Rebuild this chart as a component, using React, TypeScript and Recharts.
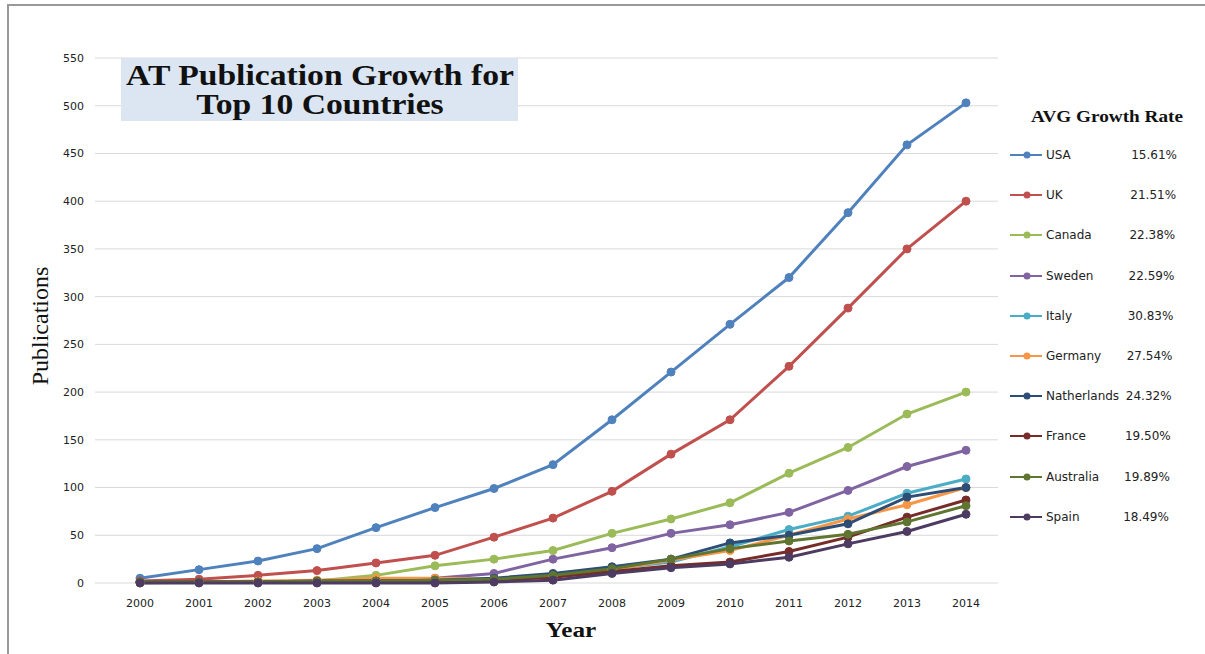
import { CartesianGrid, Line, LineChart, XAxis, YAxis } from "recharts";

const years = ["2000", "2001", "2002", "2003", "2004", "2005", "2006", "2007", "2008", "2009", "2010", "2011", "2012", "2013", "2014"];

const usa = [5, 14, 23, 36, 58, 79, 99, 124, 171, 221, 271, 320, 388, 459, 503];
const uk = [2, 4, 8, 13, 21, 29, 48, 68, 96, 135, 171, 227, 288, 350, 400];
const canada = [0, 1, 1, 2, 8, 18, 25, 34, 52, 67, 84, 115, 142, 177, 200];
const sweden = [1, 1, 1, 2, 3, 5, 10, 25, 37, 52, 61, 74, 97, 122, 139];
const italy = [1, 1, 1, 2, 3, 3, 4, 7, 15, 22, 38, 56, 70, 94, 109];
const germany = [1, 1, 2, 3, 5, 5, 4, 7, 14, 24, 34, 50, 67, 82, 100];
const netherlands = [1, 1, 1, 2, 2, 3, 5, 10, 17, 25, 42, 50, 62, 90, 100];
const france = [1, 1, 1, 1, 2, 2, 3, 6, 12, 18, 22, 33, 48, 69, 87];
const australia = [1, 1, 1, 2, 2, 3, 4, 8, 15, 25, 36, 44, 51, 64, 81];
const spain = [0, 0, 0, 0, 0, 0, 1, 3, 10, 16, 20, 27, 41, 54, 72];

const countries = ["USA", "UK", "Canada", "Sweden", "Italy", "Germany", "Natherlands", "France", "Australia", "Spain"];
const growthRates = ["15.61%", "21.51%", "22.38%", "22.59%", "30.83%", "27.54%", "24.32%", "19.50%", "19.89%", "18.49%"];
const yTicks = [0, 50, 100, 150, 200, 250, 300, 350, 400, 450, 500, 550];

const colors = ["#4f81bd", "#c0504d", "#9bbb59", "#8064a2", "#4bacc6", "#f79646", "#2c4d75", "#772c2a", "#5f7530", "#4d3b62"];
const seriesValues = [usa, uk, canada, sweden, italy, germany, netherlands, france, australia, spain];

const chartData = years.map((year, i) => {
	const row: Record<string, string | number> = { year };
	countries.forEach((c, k) => {
		row[c] = seriesValues[k][i];
	});
	return row;
});

const tickStyle = { fontFamily: "DejaVu Sans", fontSize: 11, fill: "#222" };

export default function App() {
	return (
		<div style={{ position: "absolute", left: 0, top: 0, width: 1205, height: 654, background: "#fff" }}>
			<div
				style={{
					position: "absolute",
					left: 7,
					top: 4,
					width: 1198,
					height: 650,
					borderTop: "2px solid #999",
					borderLeft: "2px solid #999",
				}}
			/>
			<LineChart width={1205} height={654} data={chartData} margin={{ top: 58, right: 207, bottom: 0, left: 35 }}>
				<CartesianGrid vertical={false} stroke="#d9d9d9" />
				<XAxis
					dataKey="year"
					height={71}
					axisLine={false}
					tickLine={false}
					tickMargin={10}
					padding={{ left: 45, right: 32 }}
					tick={tickStyle}
					interval={0}
				/>
				<YAxis
					width={60}
					domain={[0, 550]}
					ticks={yTicks}
					axisLine={false}
					tickLine={false}
					tickMargin={5}
					tick={tickStyle}
				/>
				{countries.map((c, k) => (
					<Line
						key={c}
						type="linear"
						dataKey={c}
						stroke={colors[k]}
						strokeWidth={3}
						dot={{ r: 4, fill: colors[k], stroke: colors[k], strokeWidth: 1 }}
						isAnimationActive={false}
					/>
				))}
			</LineChart>
			<div
				style={{
					position: "absolute",
					left: 121,
					top: 58,
					width: 397,
					height: 63,
					background: "#dce6f2",
				}}
			/>
			<div
				style={{
					position: "absolute",
					left: 320,
					top: 90,
					transform: "translate(-50%, -50%) scaleX(1.16)",
					fontFamily: "Liberation Serif",
					fontWeight: "bold",
					fontSize: 29,
					lineHeight: "29px",
					textAlign: "center",
					whiteSpace: "nowrap",
					color: "#111",
				}}
			>
				AT Publication Growth for
				<br />
				Top 10 Countries
			</div>
			<div
				style={{
					position: "absolute",
					left: 40,
					top: 326,
					transform: "translate(-50%, -50%) rotate(-90deg)",
					fontFamily: "Liberation Serif",
					fontSize: 24,
					whiteSpace: "nowrap",
					color: "#111",
				}}
			>
				Publications
			</div>
			<div
				style={{
					position: "absolute",
					left: 571,
					top: 630,
					transform: "translate(-50%, -50%) scaleX(1.2)",
					fontFamily: "Liberation Serif",
					fontWeight: "bold",
					fontSize: 21,
					color: "#111",
				}}
			>
				Year
			</div>
			<div
				style={{
					position: "absolute",
					left: 1107,
					top: 117,
					transform: "translate(-50%, -50%) scaleX(1.2)",
					fontFamily: "Liberation Serif",
					fontWeight: "bold",
					fontSize: 16,
					whiteSpace: "nowrap",
					color: "#111",
				}}
			>
				AVG Growth Rate
			</div>
			{countries.map((c, k) => (
				<div
					key={c}
					style={{
						position: "absolute",
						left: 1010,
						top: 155 + k * 40.2 - 8,
						height: 16,
						width: 190,
						fontFamily: "DejaVu Sans",
						fontSize: 12,
						lineHeight: "16px",
						color: "#222",
					}}
				>
					<svg width={34} height={16} style={{ position: "absolute", left: 0, top: 0 }}>
						<line x1={0} y1={8} x2={32} y2={8} stroke={colors[k]} strokeWidth={2} />
						<circle cx={17} cy={8} r={3.5} fill={colors[k]} />
					</svg>
					<span style={{ position: "absolute", left: 36, top: 0 }}>{c}</span>
					<span style={{ position: "absolute", right: 23 + k * 0.9, top: 0 }}>{growthRates[k]}</span>
				</div>
			))}
		</div>
	);
}
